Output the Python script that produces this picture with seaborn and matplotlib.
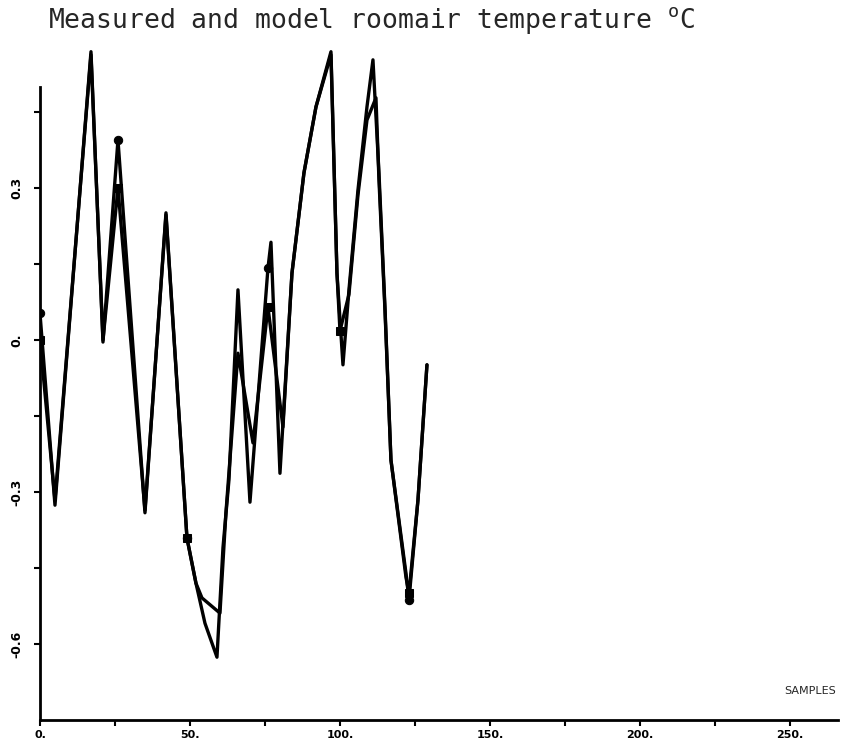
import pandas as pd
import numpy as np
import matplotlib
matplotlib.use("Agg")
import matplotlib.pyplot as plt
import seaborn as sns

# values (sample number, deg C)
samples_meas = [0, 5, 17, 21, 26, 35, 42, 49, 52, 55, 59, 61, 63, 66, 70, 76, 77, 80,
                82, 84, 88, 92, 97, 99, 101, 103, 106, 109, 111, 113, 115, 117, 122,
                123, 126, 129]
temp_meas = [0.053, -0.326, 0.569, -0.004, 0.395, -0.341, 0.251, -0.391, -0.480,
             -0.559, -0.626, -0.41, -0.276, 0.099, -0.320, 0.142, 0.193, -0.263,
             -0.065, 0.132, 0.330, 0.460, 0.569, 0.132, -0.049, 0.099, 0.296, 0.460,
             0.553, 0.330, 0.065, -0.237, -0.46, -0.513, -0.316, -0.049]

samples_model = [0, 5, 17, 21, 26, 35, 42, 49, 52, 54, 60, 62, 66, 71, 76, 81, 84, 88,
                 92, 97, 99, 100, 103, 106, 109, 112, 113, 115, 117, 122, 123, 126, 129]
temp_model = [0.0, -0.316, 0.563, 0.0, 0.30, -0.336, 0.247, -0.391, -0.480, -0.509,
              -0.539, -0.34, -0.026, -0.203, 0.065, -0.172, 0.132, 0.330, 0.460, 0.563,
              0.132, 0.018, 0.09, 0.286, 0.434, 0.478, 0.316, 0.059, -0.237, -0.468,
              -0.50, -0.316, -0.049]

# samples where the plotter put its symbols
mark_samples = [0, 26, 49, 76, 100, 123]

xticks = [0, 50, 100, 150, 200, 250]
xticklabels = ['0.', '50.', '100.', '150.', '200.', '250.']
yticks = [-0.6, -0.3, 0.0, 0.3]
yticklabels = ['-0.6', '-0.3', '0.', '0.3']

sns.set_style("ticks")
plt.rcParams['mathtext.fontset'] = 'custom'
plt.rcParams['mathtext.rm'] = 'DejaVu Sans Mono'

df_meas = pd.DataFrame({'sample': samples_meas, 'temp': temp_meas})
df_model = pd.DataFrame({'sample': samples_model, 'temp': temp_model})

fig = plt.figure(figsize=(8.56, 7.47), dpi=100)
ax = fig.add_axes([0.0467, 0.0361, 0.9322, 0.9157])

marks_meas = [i for i, s in enumerate(samples_meas) if s in mark_samples]
marks_model = [i for i, s in enumerate(samples_model) if s in mark_samples]

sns.lineplot(data=df_meas, x='sample', y='temp', color='black', lw=2.4,
             marker='o', markersize=6, markevery=marks_meas,
             markeredgecolor='black', ax=ax)
sns.lineplot(data=df_model, x='sample', y='temp', color='black', lw=2.4,
             marker='s', markersize=5.5, markevery=marks_model,
             markeredgecolor='black', ax=ax)

ax.set_xlim(0, 266)
ax.set_ylim(-0.75, 0.6)
sns.despine(ax=ax)
ax.spines['left'].set_bounds(-0.75, 0.5)
for side in ['left', 'bottom']:
    ax.spines[side].set_linewidth(2)
    ax.spines[side].set_color('black')

ax.set_xticks(xticks)
ax.set_xticklabels(xticklabels, fontsize=8, fontweight='bold')
ax.set_yticks(yticks)
ax.set_yticklabels(yticklabels, fontsize=9, fontweight='bold', rotation=90, va='center')
ax.set_xticks([25, 75, 125, 175, 225], minor=True)
ax.set_yticks([-0.45, -0.15, 0.15, 0.45], minor=True)
ax.tick_params(which='both', direction='out', length=4, width=1.5, colors='black')
ax.tick_params(axis='y', pad=8)
ax.tick_params(axis='x', pad=3)
ax.set_xlabel('')
ax.set_ylabel('')

ax.text(0.9975, 0.035, 'SAMPLES', transform=ax.transAxes, ha='right', va='bottom',
        fontsize=8)
fig.text(0.056, 0.973, 'Measured and model roomair temperature $^{\\mathrm{o}}$C',
         family='DejaVu Sans Mono', fontsize=19, va='center', ha='left')

fig.savefig('out.png', dpi=100)
